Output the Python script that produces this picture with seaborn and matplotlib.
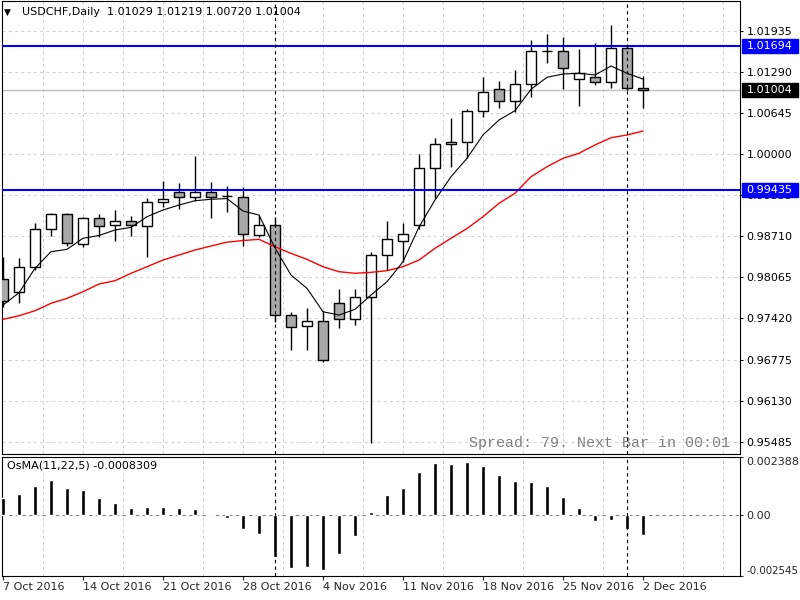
import numpy as np
import pandas as pd
import matplotlib
matplotlib.use("Agg")
import matplotlib.pyplot as plt
import matplotlib.transforms as mtransforms
from matplotlib.patches import Rectangle
import seaborn as sns

# ---------------- data ----------------
opens = [0.98034, 0.97830, 0.98222, 0.98818, 0.99053, 0.98583, 0.98991, 0.98881, 0.98948, 0.98875,
         0.99242, 0.99399, 0.99320, 0.99408, 0.99333, 0.99320, 0.98729, 0.98886, 0.97469, 0.97296,
         0.97375, 0.97657, 0.97406, 0.97751, 0.98415, 0.98639, 0.98886, 0.99775, 1.00152, 1.00183,
         1.00669, 1.01015, 1.00826, 1.01093, 1.01611, 1.01611, 1.01172, 1.01212, 1.01124, 1.01667,
         1.01029]
highs = [0.98379, 0.98363, 0.98922, 0.99079, 0.99079, 0.99016, 0.99058, 0.99121, 0.99027, 0.99304,
         0.99581, 0.99540, 0.99968, 0.99556, 0.99497, 0.99482, 0.99042, 0.99011, 0.97520, 0.97578,
         0.97541, 0.97881, 0.97881, 0.98457, 0.98948, 0.98912, 1.00000, 1.00246, 1.00560, 1.00701,
         1.01203, 1.01140, 1.01317, 1.01788, 1.01878, 1.01831, 1.01642, 1.01736, 1.02023, 1.01710,
         1.01219]
lows = [0.97604, 0.97666, 0.98179, 0.98713, 0.98561, 0.98536, 0.98693, 0.98639, 0.98713, 0.98388,
        0.99163, 0.99132, 0.99267, 0.99000, 0.99082, 0.98551, 0.98702, 0.97364, 0.96924, 0.96924,
        0.96741, 0.97274, 0.97317, 0.95470, 0.98179, 0.98310, 0.98823, 0.99309, 0.99800, 0.99941,
        1.00575, 1.00717, 1.00663, 1.00889, 1.01423, 1.01015, 1.00757, 1.01082, 1.01040, 1.01000,
        1.00720]
closes = [0.97693, 0.98222, 0.98818, 0.99053, 0.98598, 0.98991, 0.98875, 0.98948, 0.98881, 0.99242,
          0.99289, 0.99320, 0.99399, 0.99320, 0.99341, 0.98740, 0.98886, 0.97469, 0.97280, 0.97375,
          0.96772, 0.97406, 0.97751, 0.98415, 0.98661, 0.98740, 0.99775, 1.00152, 1.00183, 1.00669,
          1.00968, 1.00826, 1.01093, 1.01611, 1.01616, 1.01354, 1.01266, 1.01124, 1.01667, 1.01029,
          1.01004]
ma_fast = [0.97630, 0.97823, 0.98206, 0.98467, 0.98504, 0.98677, 0.98721, 0.98807, 0.98849, 0.99016,
           0.99121, 0.99199, 0.99267, 0.99289, 0.99301, 0.99105, 0.99042, 0.98525, 0.98101, 0.97892,
           0.97525, 0.97473, 0.97563, 0.97787, 0.97996, 0.98310, 0.98854, 0.99278, 0.99643, 0.99932,
           1.00298, 1.00533, 1.00679, 1.01015, 1.01203, 1.01255, 1.01266, 1.01239, 1.01380, 1.01266,
           1.01176]
ma_slow = [0.97406, 0.97462, 0.97541, 0.97657, 0.97735, 0.97839, 0.97960, 0.98012, 0.98128, 0.98231,
           0.98336, 0.98415, 0.98493, 0.98556, 0.98616, 0.98642, 0.98661, 0.98545, 0.98441, 0.98347,
           0.98231, 0.98153, 0.98128, 0.98143, 0.98169, 0.98231, 0.98336, 0.98520, 0.98677, 0.98831,
           0.99016, 0.99226, 0.99383, 0.99643, 0.99800, 0.99932, 1.00011, 1.00141, 1.00255, 1.00298,
           1.00360]
osma = [0.000686, 0.000836, 0.001206, 0.001452, 0.001124, 0.001000, 0.000671, 0.000466, 0.000260, 0.000301,
        0.000301, 0.000260, 0.000220, 0.000040, -0.000137, -0.000590, -0.000800, -0.001740, -0.002230, -0.002190,
        -0.002315, -0.001616, -0.000877, 0.000096, 0.000795, 0.001096, 0.001754, 0.002124, 0.002110, 0.002165,
        0.002028, 0.001658, 0.001384, 0.001343, 0.001178, 0.000712, 0.000274, -0.000274, -0.000233, -0.000590,
        -0.0008309]
date_ticks = [0, 5, 10, 15, 20, 25, 30, 35, 40]
date_labels = ["7 Oct 2016", "14 Oct 2016", "21 Oct 2016", "28 Oct 2016", "4 Nov 2016",
               "11 Nov 2016", "18 Nov 2016", "25 Nov 2016", "2 Dec 2016"]
price_ticks = [1.01935, 1.01290, 1.00645, 1.00000, 0.99355, 0.98710, 0.98065,
               0.97420, 0.96775, 0.96130, 0.95485]
osma_ticks = [-0.002545, 0.0, 0.0023887]
osma_tick_labels = ["-0.002545", "0.00", "0.0023887"]
level_lines = [1.01694, 0.99435]
bid_price = 1.01004
vline_bars = [17, 39]

# ---------------- style ----------------
sns.set_style("white")
plt.rcParams["font.family"] = ["DejaVu Sans"]

n = len(opens)
idx = np.arange(n)
df = pd.DataFrame({"bar": idx, "open": opens, "high": highs, "low": lows, "close": closes,
                   "ma_fast": ma_fast, "ma_slow": ma_slow, "osma": osma})

fig = plt.figure(figsize=(8, 6), dpi=100, facecolor="white")
ax = fig.add_axes([0.0025, 0.24333, 0.9225, 0.755])
ax2 = fig.add_axes([0.0025, 0.04, 0.9225, 0.19833])

GRID = "#D3D3D3"
xlim = (-0.0625, 46.0625)
grid_x = np.arange(2.5, 46, 2.5)

# ---------------- main panel ----------------
o = df["open"].values
c = df["close"].values
body_lo = np.minimum(o, c)
body_h = np.abs(c - o)
body_col = ["white" if cc >= oo else "#A9A9A9" for oo, cc in zip(o, c)]
ax.vlines(df["bar"], df["low"], df["high"], color="black", lw=1.0, zorder=3)
ax.bar(df["bar"], body_h, bottom=body_lo, width=0.6, color=body_col,
       edgecolor="black", linewidth=1.0, zorder=4)

sns.lineplot(data=df, x="bar", y="ma_slow", ax=ax, color="#FF0000", lw=1.0, zorder=5)
sns.lineplot(data=df, x="bar", y="ma_fast", ax=ax, color="black", lw=0.8, zorder=5)

ax.axhline(bid_price, color="#C0C0C0", lw=1.0, zorder=2)
for lv in level_lines:
    ax.axhline(lv, color="#0000FF", lw=1.5, zorder=6)
for vb in vline_bars:
    ax.axvline(vb, color="black", lw=0.8, ls=(0, (3, 3)), zorder=6)
    ax2.axvline(vb, color="black", lw=0.8, ls=(0, (3, 3)), zorder=6)

ax.set_xlim(*xlim)
ax.set_ylim(0.95293, 1.02400)
ax.set_xlabel("")
ax.set_ylabel("")
ax.set_xticks(grid_x)
ax.tick_params(axis="x", bottom=False, labelbottom=False, length=0)
ax.yaxis.tick_right()
ax.set_yticks(price_ticks)
ax.set_yticklabels([f"{v:.5f}" for v in price_ticks])
ax.tick_params(axis="y", length=2.2, pad=2.6, labelsize=8, direction="out", colors="black")
ax.grid(True, color=GRID, lw=0.75, ls=(0, (3, 3)))
for sp in ax.spines.values():
    sp.set_color("black")
    sp.set_linewidth(0.8)

# right-hand price boxes
bt = mtransforms.blended_transform_factory(ax.transAxes, ax.transData)
half_h = 0.00104
for val, fc in [(level_lines[0], "#0000FF"), (level_lines[1], "#0000FF"), (bid_price, "black")]:
    ax.add_patch(Rectangle((1.0027, val - half_h), 0.0759, 2 * half_h, transform=bt,
                           facecolor=fc, edgecolor=fc, clip_on=False, zorder=10))
    ax.text(1.00909, val, f"{val:.5f}", transform=bt, color="white", fontsize=8,
            va="center", ha="left", clip_on=False, zorder=11)

# ---------------- OsMA panel ----------------
sns.barplot(data=df, x="bar", y="osma", ax=ax2, color="black", saturation=1,
            native_scale=True, width=0.25, errorbar=None, zorder=4)
ax2.axhline(0, color="#808080", lw=0.8, ls=(0, (3, 3)), zorder=3)
ax2.set_xlim(*xlim)
ax2.set_ylim(-0.002545, 0.0023887)
ax2.set_xlabel("")
ax2.set_ylabel("")
ax2.set_xticks(date_ticks)
ax2.set_xticklabels(date_labels, ha="left", fontsize=8)
ax2.set_xticks(grid_x, minor=True)
ax2.tick_params(axis="x", which="major", length=3, pad=1.5, direction="out", bottom=True)
ax2.tick_params(axis="x", which="minor", length=0)
ax2.grid(True, which="minor", axis="x", color=GRID, lw=0.75, ls=(0, (3, 3)))
ax2.grid(False, which="major")
ax2.yaxis.tick_right()
ax2.set_yticks(osma_ticks)
ax2.set_yticklabels(osma_tick_labels)
ax2.tick_params(axis="y", length=2.2, pad=2.6, labelsize=8, direction="out")
ylabs = ax2.get_yticklabels()
ylabs[0].set_va("bottom")
ylabs[0].set_fontsize(7.4)
ylabs[2].set_va("top")
for sp in ax2.spines.values():
    sp.set_color("black")
    sp.set_linewidth(0.8)

# ---------------- texts ----------------
fig.text(4 / 800, 1 - 12 / 600, "\u25BC", fontsize=6.5, va="center", ha="left", color="black")
fig.text(22 / 800, 1 - 12 / 600, "USDCHF,Daily  1.01029 1.01219 1.00720 1.01004",
         fontsize=8, va="center", ha="left", color="black")
fig.text(7 / 800, 1 - 466 / 600, "OsMA(11,22,5) -0.0008309", fontsize=8,
         va="center", ha="left", color="black")
fig.text(730 / 800, 1 - 443 / 600, "Spread: 79. Next Bar in 00:01",
         family=["Liberation Mono", "DejaVu Sans Mono"], fontsize=10.8,
         color="#808080", va="center", ha="right")

fig.savefig("out.png", dpi=100, facecolor="white")
